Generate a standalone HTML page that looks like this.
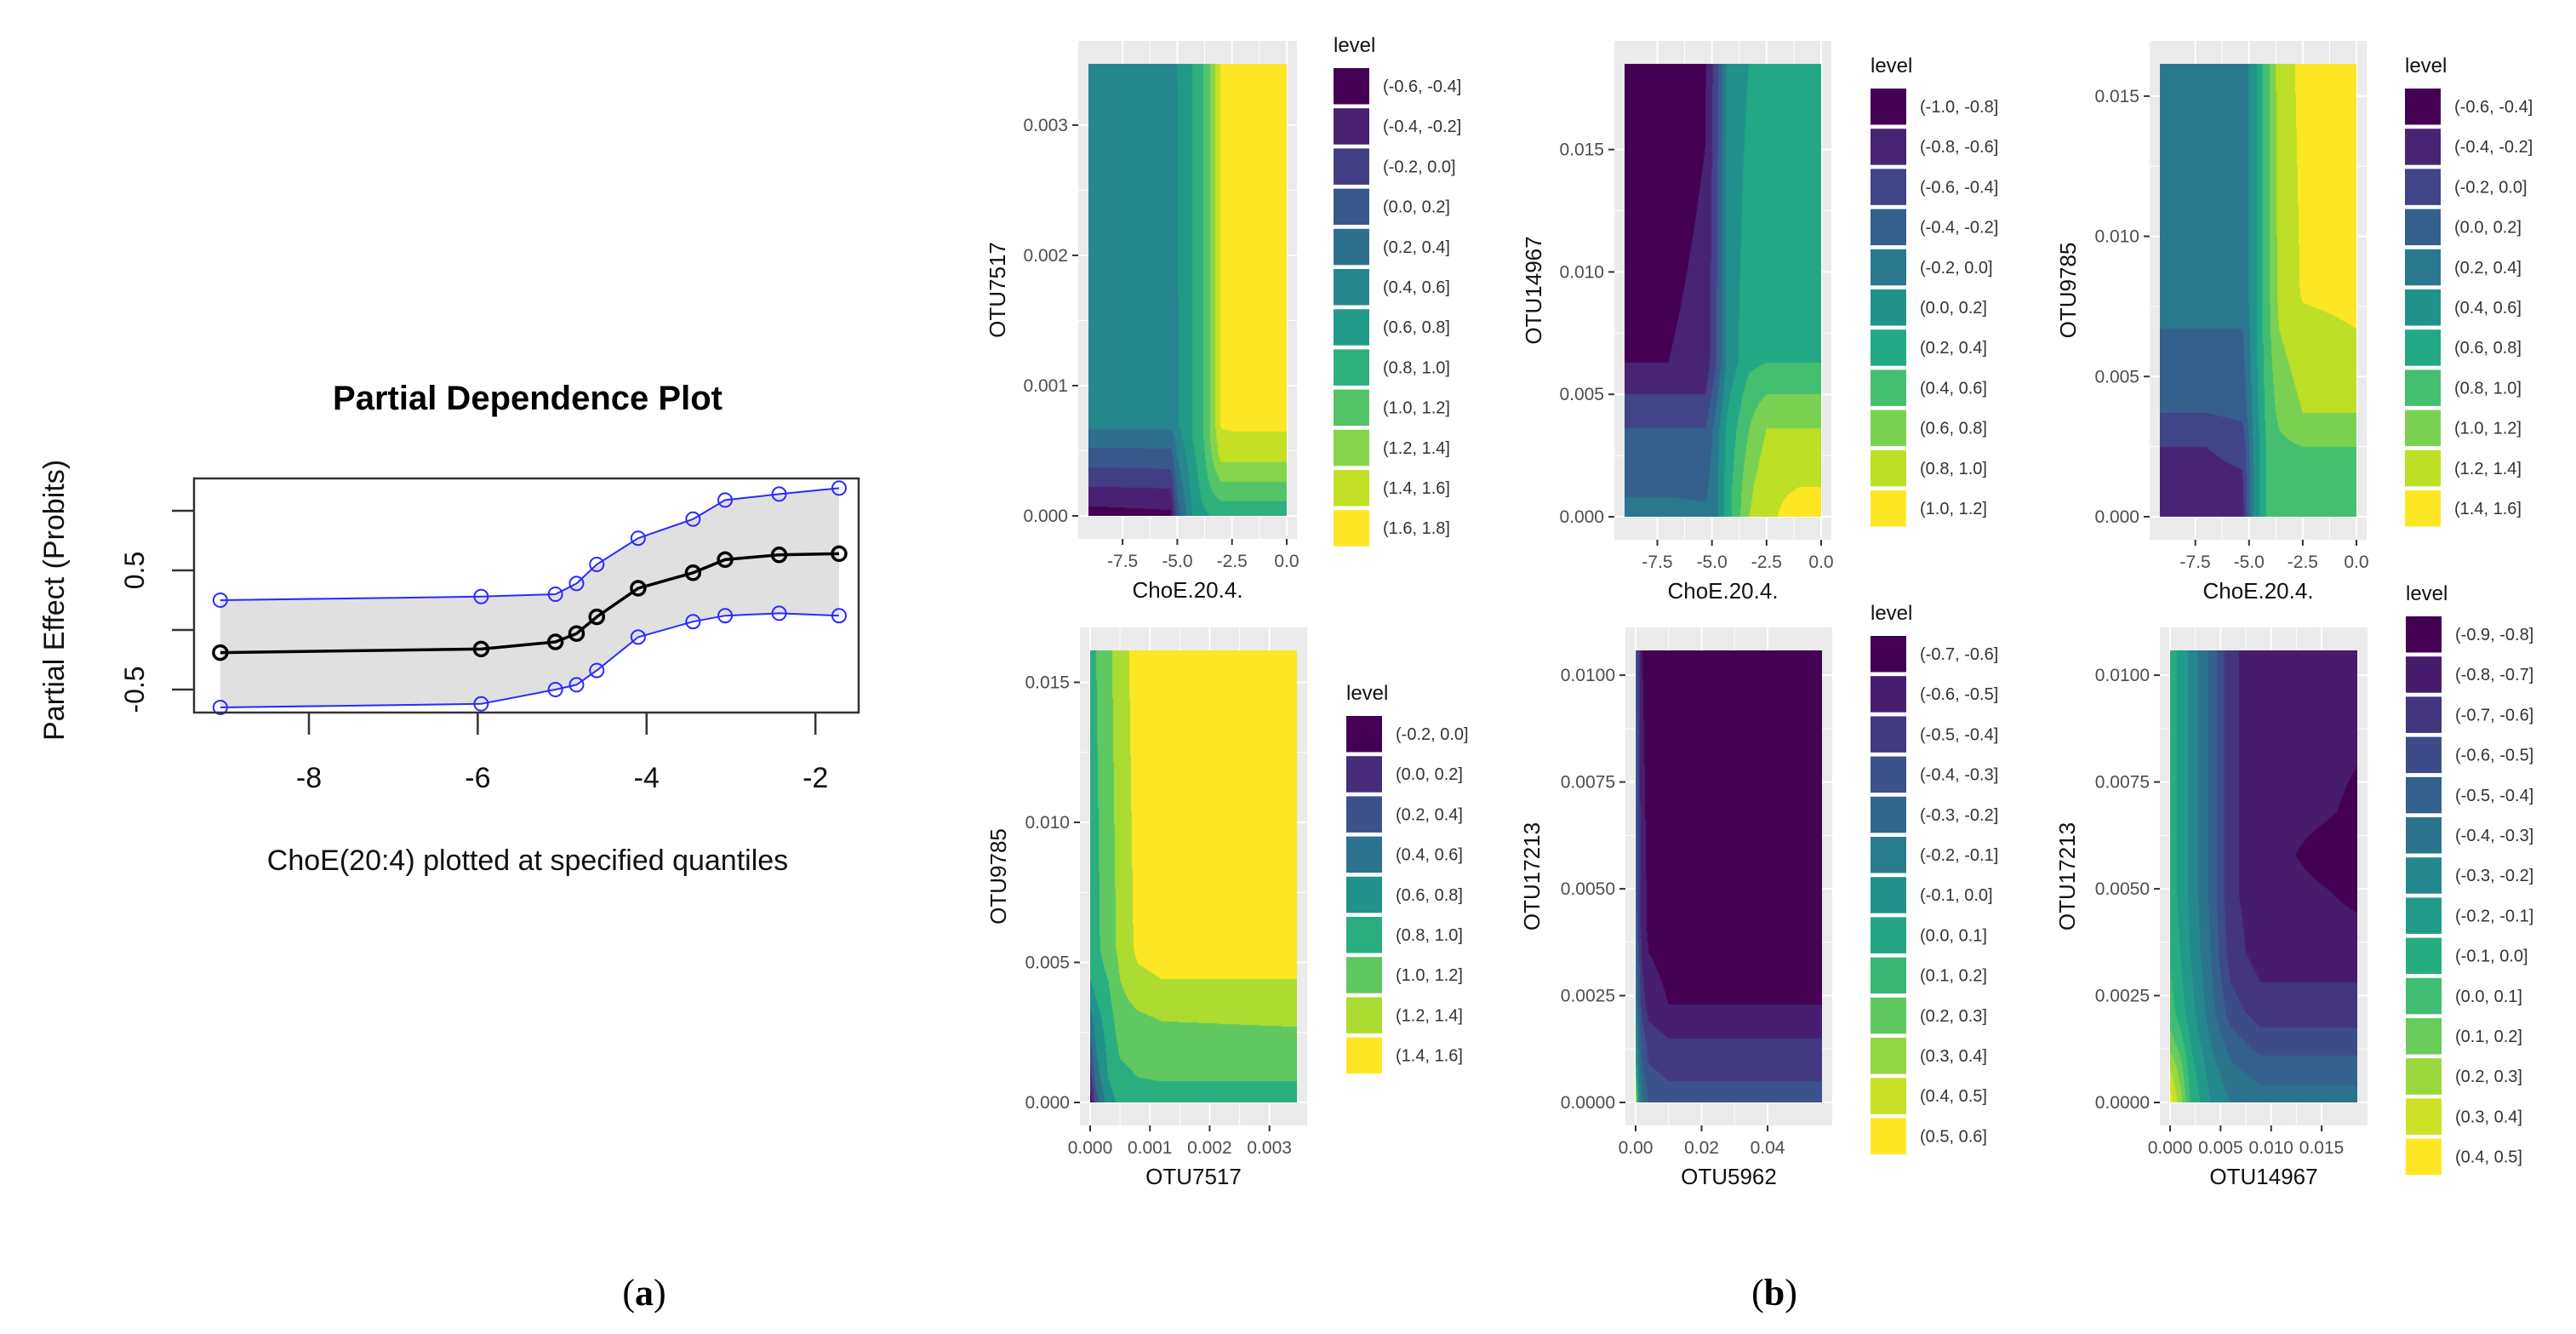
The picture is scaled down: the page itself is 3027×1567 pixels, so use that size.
<!DOCTYPE html>
<html><head><meta charset="utf-8">
<style>
html,body{margin:0;padding:0;background:#fff;}
#root{position:relative;width:3027px;height:1567px;overflow:hidden;font-family:"Liberation Sans",Arial,sans-serif;}
svg{position:absolute;left:0;top:0;}
canvas{position:absolute;}
</style></head>
<body>
<div id="root">
<svg id="svg" width="3027" height="1567"></svg>
</div>
<script>
// ---------- Panel (a) data ----------
const pdX=[-9.05,-5.96,-5.08,-4.83,-4.59,-4.10,-3.45,-3.07,-2.43,-1.72];
const pdMean=[-0.19,-0.16,-0.10,-0.03,0.11,0.35,0.48,0.59,0.63,0.64];
const pdUpper=[0.25,0.28,0.30,0.39,0.55,0.77,0.93,1.09,1.14,1.19];
const pdLower=[-0.65,-0.62,-0.50,-0.46,-0.34,-0.06,0.07,0.12,0.14,0.12];
const pdXTicks=[-8,-6,-4,-2];
const pdXTickLabels=["-8","-6","-4","-2"];
const pdYTicks=[-0.5,0,0.5,1.0];
const pdYTickLabels=["-0.5","","0.5",""];

// ---------- Panel (b) contour data (rows bottom->top) ----------
const p1X=[-9.06,-5.3,-5.0,-4.3,-3.8,-3.5,-3.0,-2.5,0];
const p1Y=[0,0.00015,0.0003,0.00045,0.0006,0.0007,0.00347];
const p1Z=[[-0.5,-0.45,0.1,0.6,0.75,0.8,0.85,0.85,0.85],
[-0.3,-0.28,0.2,0.65,0.85,0.95,1.05,1.05,1.05],
[-0.1,-0.08,0.3,0.7,0.9,1.05,1.25,1.25,1.25],
[0.1,0.12,0.4,0.75,0.95,1.15,1.45,1.45,1.45],
[0.3,0.3,0.5,0.8,1.0,1.2,1.55,1.55,1.55],
[0.45,0.45,0.58,0.8,1.0,1.2,1.62,1.65,1.65],
[0.5,0.5,0.6,0.8,1.0,1.2,1.62,1.7,1.7]];
const p2X=[-9,-7,-5.3,-4.8,-4.3,-3.3,-2.5,-1,0];
const p2Y=[0,0.0012,0.0036,0.005,0.0063,0.0187];
const p2Z=[[-0.1,-0.1,-0.15,-0.05,0.3,0.8,0.95,1.1,1.1],
[-0.25,-0.25,-0.25,-0.05,0.3,0.75,0.95,1.0,1.0],
[-0.4,-0.4,-0.4,-0.1,0.25,0.6,0.8,0.8,0.8],
[-0.6,-0.6,-0.6,-0.25,0.15,0.5,0.6,0.6,0.6],
[-0.8,-0.8,-0.75,-0.4,0.05,0.35,0.4,0.4,0.4],
[-0.9,-0.9,-0.82,-0.5,0.05,0.2,0.3,0.3,0.3]];
const p3X=[-9.15,-7,-5.3,-4.8,-4.2,-3.6,-2.5,0];
const p3Y=[0,0.0025,0.0037,0.0067,0.008,0.01615];
const p3Z=[[-0.3,-0.3,-0.3,0.4,0.8,0.9,0.9,0.9],
[-0.2,-0.2,-0.15,0.4,0.8,0.95,1.0,1.0],
[0.0,0.0,0.05,0.45,0.85,1.05,1.2,1.2],
[0.2,0.2,0.2,0.5,0.9,1.2,1.35,1.4],
[0.3,0.3,0.3,0.5,0.9,1.25,1.42,1.45],
[0.3,0.3,0.3,0.5,0.9,1.3,1.45,1.5]];
const p4X=[0,0.0001,0.0003,0.0005,0.0008,0.0012,0.00346];
const p4Y=[0,0.0009,0.0029,0.0044,0.0055,0.01614];
const p4Z=[[-0.1,0.3,0.7,0.85,0.9,0.9,0.9],
[0.1,0.5,0.8,0.95,1.0,1.02,1.02],
[0.5,0.7,0.9,1.1,1.15,1.2,1.22],
[0.8,0.9,1.0,1.2,1.35,1.4,1.4],
[0.9,0.95,1.1,1.25,1.45,1.5,1.5],
[0.9,1.0,1.15,1.3,1.5,1.5,1.5]];
const p5X=[0,0.0008,0.002,0.004,0.01,0.0565];
const p5Y=[0,0.0005,0.0009,0.0015,0.0023,0.004,0.01058];
const p5Z=[[0.55,0.0,-0.2,-0.3,-0.35,-0.35],
[0.3,-0.1,-0.25,-0.35,-0.4,-0.4],
[0.1,-0.15,-0.3,-0.4,-0.45,-0.5],
[0.0,-0.2,-0.35,-0.45,-0.5,-0.5],
[-0.1,-0.3,-0.45,-0.55,-0.6,-0.6],
[-0.2,-0.4,-0.55,-0.62,-0.65,-0.65],
[-0.25,-0.45,-0.6,-0.65,-0.65,-0.65]];
const p6X=[0,0.001,0.002,0.004,0.006,0.009,0.0145,0.01853];
const p6Y=[0,0.0008,0.0014,0.0021,0.0035,0.0048,0.0058,0.0068,0.01058];
const p6Z=[[0.45,0.25,0.0,-0.2,-0.3,-0.35,-0.35,-0.35],
[0.3,0.15,-0.05,-0.25,-0.38,-0.45,-0.45,-0.45],
[0.15,0.05,-0.1,-0.3,-0.45,-0.55,-0.55,-0.55],
[0.05,-0.05,-0.15,-0.35,-0.55,-0.65,-0.65,-0.65],
[-0.02,-0.1,-0.2,-0.4,-0.65,-0.75,-0.75,-0.75],
[-0.05,-0.12,-0.22,-0.42,-0.68,-0.75,-0.78,-0.82],
[-0.05,-0.12,-0.22,-0.42,-0.68,-0.75,-0.83,-0.86],
[-0.05,-0.12,-0.22,-0.42,-0.68,-0.75,-0.78,-0.82],
[-0.05,-0.12,-0.22,-0.42,-0.68,-0.75,-0.75,-0.75]];

const choeTicks=[-7.5,-5,-2.5,0];
const choeTickLabels=["-7.5","-5.0","-2.5","0.0"];
const p1YTicks=[0,0.001,0.002,0.003];
const p1YTickLabels=["0.000","0.001","0.002","0.003"];
const otuYTicks=[0,0.005,0.01,0.015];
const otuYTickLabels=["0.000","0.005","0.010","0.015"];
const p4XTicks=[0,0.001,0.002,0.003];
const p4XTickLabels=["0.000","0.001","0.002","0.003"];
const p56YTicks=[0,0.0025,0.005,0.0075,0.01];
const p56YTickLabels=["0.0000","0.0025","0.0050","0.0075","0.0100"];
const p5XTicks=[0,0.02,0.04];
const p5XTickLabels=["0.00","0.02","0.04"];
const p6XTicks=[0,0.005,0.01,0.015];
const p6XTickLabels=["0.000","0.005","0.010","0.015"];

const levelStarts=[-0.6,-1.0,-0.6,-0.2,-0.7,-0.9];
const levelSteps=[0.2,0.2,0.2,0.2,0.1,0.1];
const levelCounts=[12,11,11,9,13,14];

const svg=document.getElementById('svg');
const root=document.getElementById('root');
const NS='http://www.w3.org/2000/svg';
function mk(tag,attrs,parent){const e=document.createElementNS(NS,tag);for(const k in attrs)e.setAttribute(k,attrs[k]);(parent||svg).appendChild(e);return e;}
function txt(s,attrs,parent){const e=mk('text',attrs,parent);e.textContent=s;return e;}

// ---------- Panel (a) ----------
const A={L:228,R:1009,T:562,B:837};
function ax(v){return 363+(v+8)*99.2;}
function ay(v){return 740-v*140;}
const ga=mk('g',{});


let band='';
pdX.forEach((x,i)=>{band+=(i?'L':'M')+ax(x)+','+ay(pdUpper[i]);});
for(let i=pdX.length-1;i>=0;i--)band+='L'+ax(pdX[i])+','+ay(pdLower[i]);
const bandEl=mk('path',{d:band+'Z',fill:'#e0e0e0',stroke:'none'},ga);


[[pdUpper,'#2a2aff',2,'upper-bound-line'],[pdLower,'#2a2aff',2,'lower-bound-line'],[pdMean,'#000',3.5,'mean-effect-line']].forEach(([arr,col,w,name])=>{
  let d='';pdX.forEach((x,i)=>{d+=(i?'L':'M')+ax(x)+','+ay(arr[i]);});
  const ln=mk('path',{d:d,fill:'none',stroke:col,'stroke-width':w},ga);
  
  
  pdX.forEach((x,i)=>{
    const c=mk('circle',{cx:ax(x),cy:ay(arr[i]),r:8,fill:'none',stroke:col,'stroke-width':w},ga);
    
    
  });
});
const boxEl=mk('rect',{x:A.L,y:A.T,width:A.R-A.L,height:A.B-A.T,fill:'none',stroke:'#333','stroke-width':2.5},ga);


pdXTicks.forEach((v,i)=>{
  mk('line',{x1:ax(v),x2:ax(v),y1:A.B,y2:A.B+26,stroke:'#333','stroke-width':2.5},ga);
  const t=txt(pdXTickLabels[i],{x:ax(v),y:925,'font-size':34,'text-anchor':'middle',fill:'#111'},ga);
  
  
});
pdYTicks.forEach((v,i)=>{
  mk('line',{x1:A.L,x2:A.L-26,y1:ay(v),y2:ay(v),stroke:'#333','stroke-width':2.5},ga);
  if(pdYTickLabels[i]){
    const t=txt(pdYTickLabels[i],{x:0,y:0,'font-size':32,'text-anchor':'middle',fill:'#111',transform:'translate(169,'+ay(v)+') rotate(-90)'},ga);
    
    
  }
});
const aTitle=txt('Partial Dependence Plot',{x:620,y:481,'font-size':40,'font-weight':'bold','text-anchor':'middle',fill:'#000'},ga);


const aXT=txt('ChoE(20:4) plotted at specified quantiles',{x:620,y:1022,'font-size':34,'text-anchor':'middle',fill:'#111'},ga);


const aYT=txt('Partial Effect (Probits)',{x:0,y:0,'font-size':34,'text-anchor':'middle',fill:'#111',transform:'translate(75,705) rotate(-90)'},ga);



// ---------- Panel (b) ----------
const VIR=['#440154','#482475','#414487','#355f8d','#2a788e','#21918c','#22a884','#44bf70','#7ad151','#bddf26','#fde725'];
function hex(c){return [parseInt(c.slice(1,3),16),parseInt(c.slice(3,5),16),parseInt(c.slice(5,7),16)];}
function vir(t){const p=t*10,i=Math.min(9,Math.floor(p)),f=p-i;const a=hex(VIR[i]),b=hex(VIR[i+1]);return [0,1,2].map(k=>Math.round(a[k]+(b[k]-a[k])*f));}
function seg(arr,v){for(let i=0;i<arr.length-2;i++){if(v<=arr[i+1])return i;}return arr.length-2;}
function interp(X,Y,Z,x,y){const i=seg(X,x),j=seg(Y,y);const fx=Math.max(0,Math.min(1,(x-X[i])/(X[i+1]-X[i]))),fy=Math.max(0,Math.min(1,(y-Y[j])/(Y[j+1]-Y[j])));
  return Z[j][i]*(1-fx)*(1-fy)+Z[j][i+1]*fx*(1-fy)+Z[j+1][i]*(1-fx)*fy+Z[j+1][i+1]*fx*fy;}

const panels=[
 {X:p1X,Y:p1Y,Z:p1Z,fx:[1279,1512],fy:[75,606],xd:[-9.06,0],yd:[0,0.00347],xt:choeTicks,xl:choeTickLabels,yt:p1YTicks,yl:p1YTickLabels,xtitle:'ChoE.20.4.',ytitle:'OTU7517',ytx:1172,legX:1567,legY:80},
 {X:p2X,Y:p2Y,Z:p2Z,fx:[1909,2140],fy:[75,607],xd:[-9.0,0],yd:[0,0.0185],xt:choeTicks,xl:choeTickLabels,yt:otuYTicks,yl:otuYTickLabels,xtitle:'ChoE.20.4.',ytitle:'OTU14967',ytx:1802,legX:2198,legY:104},
 {X:p3X,Y:p3Y,Z:p3Z,fx:[2538,2769],fy:[75,607],xd:[-9.15,0],yd:[0,0.01615],xt:choeTicks,xl:choeTickLabels,yt:otuYTicks,yl:otuYTickLabels,xtitle:'ChoE.20.4.',ytitle:'OTU9785',ytx:2430,legX:2826,legY:104},
 {X:p4X,Y:p4Y,Z:p4Z,fx:[1281,1524],fy:[764,1295],xd:[0,0.00346],yd:[0,0.01614],xt:p4XTicks,xl:p4XTickLabels,yt:otuYTicks,yl:otuYTickLabels,xtitle:'OTU7517',ytitle:'OTU9785',ytx:1173,legX:1582,legY:841},
 {X:p5X,Y:p5Y,Z:p5Z,fx:[1922,2141],fy:[764,1295],xd:[0,0.0565],yd:[0,0.01058],xt:p5XTicks,xl:p5XTickLabels,yt:p56YTicks,yl:p56YTickLabels,xtitle:'OTU5962',ytitle:'OTU17213',ytx:1800,legX:2198,legY:747},
 {X:p6X,Y:p6Y,Z:p6Z,fx:[2550,2770],fy:[764,1295],xd:[0,0.01853],yd:[0,0.01058],xt:p6XTicks,xl:p6XTickLabels,yt:p56YTicks,yl:p56YTickLabels,xtitle:'OTU14967',ytitle:'OTU17213',ytx:2429,legX:2827,legY:724}
];

panels.forEach((p,pi)=>{
  const g=mk('g',{});
  
  
  const sx=v=>p.fx[0]+(v-p.xd[0])/(p.xd[1]-p.xd[0])*(p.fx[1]-p.fx[0]);
  const sy=v=>p.fy[1]-(v-p.yd[0])/(p.yd[1]-p.yd[0])*(p.fy[1]-p.fy[0]);
  const bx0=p.fx[0]-12,bx1=p.fx[1]+12,by0=p.fy[0]-27,by1=p.fy[1]+27;
  const bg=mk('rect',{x:bx0,y:by0,width:bx1-bx0,height:by1-by0,fill:'#ebebeb'},g);
  
  
  const xs=p.xt,ys=p.yt;
  for(let i=0;i<xs.length;i++){
    mk('line',{x1:sx(xs[i]),x2:sx(xs[i]),y1:by0,y2:by1,stroke:'#fff','stroke-width':2},g);
    if(i<xs.length-1){const m=(xs[i]+xs[i+1])/2;mk('line',{x1:sx(m),x2:sx(m),y1:by0,y2:by1,stroke:'#fff','stroke-width':1},g);}
  }
  for(let i=0;i<ys.length;i++){
    mk('line',{x1:bx0,x2:bx1,y1:sy(ys[i]),y2:sy(ys[i]),stroke:'#fff','stroke-width':2},g);
    if(i<ys.length-1){const m=(ys[i]+ys[i+1])/2;mk('line',{x1:bx0,x2:bx1,y1:sy(m),y2:sy(m),stroke:'#fff','stroke-width':1},g);}
  }
  xs.forEach((v,i)=>{
    mk('line',{x1:sx(v),x2:sx(v),y1:by1,y2:by1+7,stroke:'#333','stroke-width':2},g);
    const t=txt(p.xl[i],{x:sx(v),y:by1+33,'font-size':21,'text-anchor':'middle',fill:'#4d4d4d'},g);
    
    
  });
  ys.forEach((v,i)=>{
    mk('line',{x1:bx0-7,x2:bx0,y1:sy(v),y2:sy(v),stroke:'#333','stroke-width':2},g);
    const t=txt(p.yl[i],{x:bx0-12,y:sy(v)+7,'font-size':21,'text-anchor':'end',fill:'#4d4d4d'},g);
    
    
  });
  const xt=txt(p.xtitle,{x:(bx0+bx1)/2,y:by1+69,'font-size':26,'text-anchor':'middle',fill:'#111'},g);
  
  
  const yt=txt(p.ytitle,{x:0,y:0,'font-size':26,'text-anchor':'middle',fill:'#111',transform:'translate('+(p.ytx+9)+','+((p.fy[0]+p.fy[1])/2)+') rotate(-90)'},g);
  
  
  const n=levelCounts[pi],st=levelStarts[pi],sp=levelSteps[pi];
  const lg=mk('g',{},g);
  
  
  const lt=txt('level',{x:p.legX,y:p.legY-19,'font-size':24,fill:'#111'},lg);
  
  
  for(let k=0;k<n;k++){
    const c=vir(n>1?k/(n-1):0);
    const r=mk('rect',{x:p.legX,y:p.legY+k*47.2,width:42,height:42.5,fill:'rgb('+c.join(',')+')'},lg);
    
    
    const a=(st+k*sp).toFixed(1),b=(st+(k+1)*sp).toFixed(1);
    const lab=txt('('+a+', '+b+']',{x:p.legX+58,y:p.legY+k*47.2+28,'font-size':20,fill:'#333'},lg);
    
    
  }
  const w=Math.round(p.fx[1]-p.fx[0]),h=Math.round(p.fy[1]-p.fy[0]);
  const cv=document.createElement('canvas');
  cv.width=w;cv.height=h;
  cv.style.left=p.fx[0]+'px';cv.style.top=p.fy[0]+'px';
  
  
  root.appendChild(cv);
  const ctx=cv.getContext('2d');const img=ctx.createImageData(w,h);
  const cols=[];for(let k=0;k<n;k++)cols.push(vir(n>1?k/(n-1):0));
  for(let j=0;j<h;j++){
    const yv=p.yd[1]-(j+0.5)/h*(p.yd[1]-p.yd[0]);
    for(let i=0;i<w;i++){
      const xv=p.xd[0]+(i+0.5)/w*(p.xd[1]-p.xd[0]);
      const z=interp(p.X,p.Y,p.Z,xv,yv);
      let b=Math.floor((z-st)/sp+1e-9);b=Math.max(0,Math.min(n-1,b));
      const c=cols[b],o=(j*w+i)*4;
      img.data[o]=c[0];img.data[o+1]=c[1];img.data[o+2]=c[2];img.data[o+3]=255;
    }
  }
  ctx.putImageData(img,0,0);
});

const la=mk('text',{x:757,y:1533,'font-size':44,'text-anchor':'middle',fill:'#000','font-family':'Liberation Serif, serif'});


la.appendChild(document.createTextNode('('));
const las=mk('tspan',{'font-weight':'bold'},la);las.textContent='a';
la.appendChild(document.createTextNode(')'));
const lb=mk('text',{x:2085,y:1533,'font-size':44,'text-anchor':'middle',fill:'#000','font-family':'Liberation Serif, serif'});


lb.appendChild(document.createTextNode('('));
const lbs=mk('tspan',{'font-weight':'bold'},lb);lbs.textContent='b';
lb.appendChild(document.createTextNode(')'));
</script>
</body></html>
